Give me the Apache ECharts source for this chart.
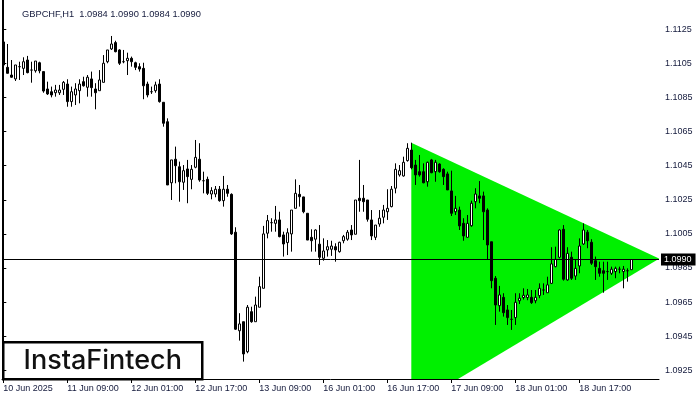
<!DOCTYPE html>
<html>
<head>
<meta charset="utf-8">
<script src="https://cdn.jsdelivr.net/npm/echarts@6/dist/echarts.min.js"></script>
<style>
html,body{margin:0;padding:0;background:#fff;}
#chart{width:700px;height:400px;}
</style>
</head>
<body>
<div id="chart"></div>
<script>
// ---- data ----
const symbol = 'GBPCHF,H1';
const tickLabels = ['10 Jun 2025','11 Jun 09:00','12 Jun 01:00','12 Jun 17:00','13 Jun 09:00','16 Jun 01:00','16 Jun 17:00','17 Jun 09:00','18 Jun 01:00','18 Jun 17:00'];
const priceTicks = [1.0925,1.0945,1.0965,1.0985,1.1005,1.1025,1.1045,1.1065,1.1085,1.1105,1.1125];
const opens = [1.11176,1.11027,1.10982,1.10959,1.11031,1.11021,1.11070,1.11011,1.11007,1.11054,
1.11002,1.10900,1.10884,1.10878,1.10878,1.10898,1.10929,1.10826,1.10865,1.10890,
1.10943,1.10910,1.10959,1.10900,1.10890,1.10939,1.11060,1.11135,1.11172,1.11129,
1.11060,1.11066,1.11080,1.11054,1.11031,1.11021,1.10929,1.10884,1.10890,1.10929,
1.10822,1.10708,1.10350,1.10488,1.10444,1.10353,1.10431,1.10370,1.10441,1.10488,
1.10362,1.10370,1.10284,1.10284,1.10312,1.10245,1.10312,1.10282,1.10060,1.09482,
1.09535,1.09359,1.09594,1.09535,1.09620,1.09731,1.10054,1.10116,1.10112,1.10132,
1.10044,1.09999,1.10050,1.10200,1.10282,1.10267,1.10171,1.10030,1.10019,1.09990,
1.09907,1.09956,1.09960,1.09975,1.09946,1.10010,1.10019,1.10073,1.10048,1.10259,
1.10259,1.10249,1.10132,1.10030,1.10108,1.10148,1.10180,1.10210,1.10318,1.10396,
1.10390,1.10480,1.10542,1.10454,1.10415,1.10415,1.10356,1.10484,1.10415,1.10460,
1.10429,1.10402,1.10302,1.10180,1.10190,1.10112,1.10030,1.10098,1.10239,1.10273,
1.10273,1.10190,1.10004,1.09790,1.09629,1.09678,1.09604,1.09549,1.09559,1.09658,
1.09677,1.09677,1.09678,1.09658,1.09688,1.09721,1.09705,1.09760,1.09858,1.09913,
1.10077,1.09780,1.09913,1.09803,1.09862,1.09991,1.10060,1.10001,1.09893,1.09848,
1.09834,1.09829,1.09819,1.09829,1.09843,1.09829,1.09834,1.0984];
const closes = [1.11041,1.10992,1.10969,1.11041,1.11031,1.11060,1.10996,1.11011,1.11064,1.11007,
1.10888,1.10871,1.10865,1.10894,1.10894,1.10939,1.10826,1.10884,1.10900,1.10929,
1.10919,1.10969,1.10908,1.10878,1.10953,1.11051,1.11129,1.11164,1.11119,1.11051,
1.11060,1.11080,1.11060,1.11027,1.11017,1.10919,1.10865,1.10884,1.10924,1.10826,
1.10699,1.10337,1.10484,1.10450,1.10356,1.10421,1.10386,1.10429,1.10499,1.10366,
1.10362,1.10288,1.10304,1.10312,1.10245,1.10312,1.10288,1.10050,1.09491,1.09522,
1.09346,1.09620,1.09535,1.09633,1.09741,1.10050,1.10128,1.10116,1.10132,1.10034,
1.09991,1.10057,1.10190,1.10288,1.10268,1.10180,1.10014,1.10010,1.10073,1.09913,
1.09950,1.09975,1.09979,1.09956,1.10001,1.10034,1.10060,1.10044,1.10249,1.10245,
1.10239,1.10136,1.10038,1.10102,1.10142,1.10190,1.10200,1.10312,1.10429,1.10421,
1.10470,1.10552,1.10438,1.10396,1.10396,1.10350,1.10470,1.10409,1.10470,1.10415,
1.10386,1.10308,1.10171,1.10200,1.10097,1.10038,1.10112,1.10230,1.10284,1.10259,
1.10180,1.09985,1.09776,1.09633,1.09692,1.09588,1.09559,1.09549,1.09649,1.09673,
1.09690,1.09692,1.09647,1.09678,1.09731,1.09721,1.09751,1.09874,1.09901,1.10073,
1.09784,1.09936,1.09790,1.09848,1.09979,1.10073,1.10010,1.09878,1.09858,1.09819,
1.09819,1.09829,1.09843,1.09848,1.09843,1.09843,1.09834,1.0990];
const lows = [1.11035,1.10991,1.10966,1.10947,1.10953,1.10982,1.10992,1.10937,1.10996,1.10992,
1.10878,1.10865,1.10851,1.10855,1.10865,1.10865,1.10796,1.10796,1.10806,1.10816,
1.10914,1.10855,1.10855,1.10781,1.10890,1.10939,1.11051,1.11129,1.11115,1.11041,
1.11051,1.10982,1.11031,1.11011,1.11002,1.10840,1.10851,1.10871,1.10878,1.10820,
1.10679,1.10337,1.10249,1.10347,1.10239,1.10308,1.10230,1.10312,1.10435,1.10356,
1.10288,1.10278,1.10253,1.10265,1.10239,1.10210,1.10268,1.10044,1.09487,1.09424,
1.09301,1.09350,1.09529,1.09535,1.09620,1.09731,1.10024,1.10063,1.10063,1.10030,
1.09917,1.09926,1.09946,1.10200,1.10210,1.10171,1.10014,1.09946,1.09946,1.09868,
1.09893,1.09917,1.09921,1.09887,1.09940,1.09995,1.10010,1.10014,1.10048,1.10180,
1.10180,1.10122,1.10014,1.10014,1.10092,1.10112,1.10132,1.10206,1.10288,1.10386,
1.10386,1.10474,1.10429,1.10337,1.10386,1.10347,1.10327,1.10406,1.10356,1.10409,
1.10337,1.10308,1.10155,1.10161,1.10073,1.10010,1.10030,1.10092,1.10200,1.10230,
1.10014,1.09901,1.09731,1.09516,1.09594,1.09565,1.09516,1.09487,1.09516,1.09639,
1.09665,1.09661,1.09639,1.09643,1.09673,1.09692,1.09705,1.09756,1.09854,1.09907,
1.09776,1.09776,1.09780,1.09780,1.09819,1.09985,1.09966,1.09868,1.09780,1.09799,
1.09705,1.09780,1.09809,1.09790,1.09819,1.09731,1.09770,1.0984];
const highs = [1.11182,1.11164,1.11070,1.11041,1.11060,1.11086,1.11094,1.11060,1.11064,1.11060,
1.11002,1.10943,1.10914,1.10924,1.10924,1.10947,1.10957,1.10914,1.10934,1.10957,
1.10972,1.10982,1.11002,1.10934,1.11011,1.11099,1.11129,1.11211,1.11183,1.11133,
1.11129,1.11113,1.11090,1.11060,1.11051,1.11054,1.10943,1.10914,1.10943,1.10957,
1.10822,1.10728,1.10484,1.10562,1.10474,1.10454,1.10484,1.10454,1.10601,1.10582,
1.10415,1.10386,1.10324,1.10331,1.10331,1.10390,1.10337,1.10288,1.10089,1.09585,
1.09535,1.09633,1.09623,1.09682,1.09799,1.10097,1.10161,1.10142,1.10214,1.10180,
1.10063,1.10083,1.10190,1.10370,1.10337,1.10268,1.10171,1.10077,1.10077,1.10102,
1.10024,1.10014,1.10010,1.09995,1.10004,1.10044,1.10073,1.10102,1.10249,1.10484,
1.10337,1.10249,1.10190,1.10102,1.10190,1.10220,1.10312,1.10331,1.10464,1.10454,
1.10503,1.10582,1.10585,1.10484,1.10513,1.10464,1.10474,1.10490,1.10484,1.10464,
1.10435,1.10415,1.10421,1.10273,1.10210,1.10142,1.10161,1.10245,1.10318,1.10360,
1.10298,1.10200,1.10004,1.09803,1.09745,1.09702,1.09633,1.09604,1.09702,1.09702,
1.09731,1.09727,1.09721,1.09721,1.09760,1.09760,1.09799,1.09972,1.09975,1.10077,
1.10102,1.09972,1.09946,1.09897,1.10024,1.10112,1.10073,1.10019,1.09917,1.09887,
1.09887,1.09887,1.09858,1.09858,1.09858,1.09862,1.09848,1.0990];
// triangle pattern vertices: [candle slot, price]
const triangle = [[102, 1.10585], [102, 1.09035], [164, 1.09905]];
const bidPrice = 1.0990;

// ---- layout constants ----
const SLOTS = 164;       // hourly slots on the time axis (incl. empty future space)
const LABEL_EVERY = 16;  // one time label each 16 bars
const PRICE_MIN = 1.09199, PRICE_MAX = 1.11422;
const FONT = '"Liberation Sans", Arial, sans-serif';
const TXT = '#141a3c';

const slots = Array.from({length: SLOTS}, (_, i) => String(i));
const candles = opens.map((o, i) => [o, closes[i], lows[i], highs[i]]);
const last = opens.length - 1;
const fmt = v => Number(v).toFixed(4);
const showTick = i => i % LABEL_EVERY === 0 && (i / LABEL_EVERY) < tickLabels.length;

const chart = echarts.init(document.getElementById('chart'), null, {renderer: 'canvas'});
chart.setOption({
  animation: false,
  backgroundColor: '#fff',
  title: {
    text: symbol + '  ' + [opens[last], highs[last], lows[last], closes[last]].map(fmt).join(' '),
    left: 17, top: 5,
    textStyle: {fontFamily: FONT, fontSize: 9.3, fontWeight: 'normal', color: TXT}
  },
  grid: [
    {left: 1.3, top: 0, width: 656, height: 379},
    {left: 2, top: 0, width: 657, height: 379}
  ],
  xAxis: [
    {
      type: 'category', gridIndex: 0, data: slots, boundaryGap: true,
      axisLine: {show: false},
      axisTick: {show: true, alignWithLabel: true, length: 4, interval: (i) => showTick(i), lineStyle: {color: '#000'}},
      axisLabel: {
        interval: (i) => showTick(i), align: 'left', margin: 5,
        fontFamily: FONT, fontSize: 9, color: TXT,
        formatter: (v, i) => tickLabels[Number(v) / LABEL_EVERY] || ''
      },
      splitLine: {show: false}
    },
    {
      type: 'value', gridIndex: 1, min: -0.325, max: 163.925,
      axisLine: {show: true, onZero: false, lineStyle: {color: '#000', width: 1}},
      axisTick: {show: false}, axisLabel: {show: false}, splitLine: {show: false}
    }
  ],
  yAxis: [
    {type: 'value', gridIndex: 0, min: PRICE_MIN, max: PRICE_MAX, show: false, scale: true},
    {
      type: 'value', gridIndex: 1, min: PRICE_MIN, max: PRICE_MAX, position: 'right', scale: true,
      axisLine: {show: true, lineStyle: {color: '#000', width: 1}},
      axisTick: {show: true, length: 3, customValues: priceTicks, lineStyle: {color: '#000'}},
      axisLabel: {show: true, customValues: priceTicks, margin: 6, fontFamily: FONT, fontSize: 9, color: TXT, formatter: v => fmt(v)},
      splitLine: {show: false}
    },
    {
      type: 'value', gridIndex: 1, min: PRICE_MIN, max: PRICE_MAX, position: 'left', scale: true,
      axisLine: {show: true, lineStyle: {color: '#000', width: 1}},
      axisTick: {show: false}, axisLabel: {show: false}, splitLine: {show: false}
    }
  ],
  series: [
    {
      type: 'custom', xAxisIndex: 1, yAxisIndex: 1, clip: true, z: 1, silent: true,
      data: [0],
      renderItem: (params, api) => ({
        type: 'polygon',
        shape: {points: triangle.map(p => api.coord(p))},
        style: {fill: '#00f000', stroke: null}
      }),
      markLine: {
        silent: true, symbol: 'none', z: 5, precision: 5,
        lineStyle: {color: '#000', width: 1, type: 'solid'},
        label: {
          position: 'end', distance: 2, formatter: () => fmt(bidPrice),
          backgroundColor: '#000', color: '#fff', fontFamily: FONT, fontSize: 9, padding: [2, 4, 1, 3]
        },
        data: [{yAxis: bidPrice}]
      }
    },
    {
      type: 'candlestick', xAxisIndex: 0, yAxisIndex: 0, z: 3,
      barWidth: 2,
      data: candles,
      itemStyle: {color: '#fff', color0: '#000', borderColor: '#000', borderColor0: '#000', borderWidth: 1}
    }
  ],
  graphic: [
    {
      type: 'group', left: 2, top: 341, z: 100,
      children: [
        {type: 'rect', shape: {x: 0.5, y: 0, width: 199, height: 37}, style: {fill: '#fff', stroke: '#000', lineWidth: 2.5}},
        {type: 'text', x: 100, y: 19, style: {text: 'InstaFintech', font: '500 27px Inter, Lato, sans-serif', fill: '#111', align: 'center', verticalAlign: 'middle'}}
      ]
    }
  ]
});
</script>
</body>
</html>
